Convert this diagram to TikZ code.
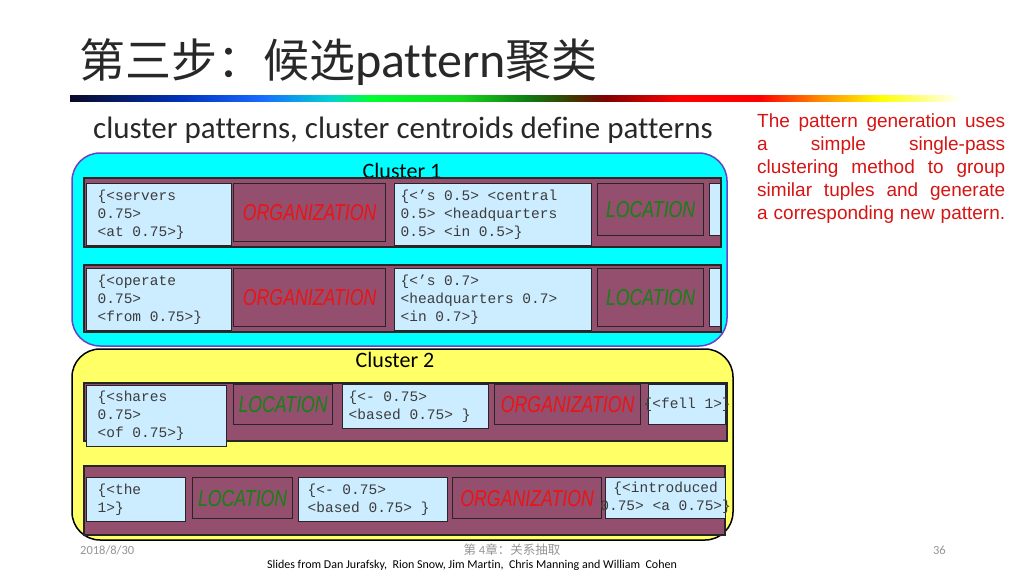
\documentclass[tikz,border=0pt]{standalone}
\usepackage{fontspec}
\setmainfont{Liberation Sans}
\newfontfamily\cjk{Noto Sans CJK SC}
\newfontfamily\calib[Ligatures=NoCommon]{Carlito}
\newfontfamily\mono{Liberation Mono}
\newfontfamily\narrowf[FakeStretch=0.77]{Liberation Sans}
\newcommand\natsp{\spaceskip=0pt\xspaceskip=0pt\relax}
\definecolor{maroon}{RGB}{148,78,110}
\definecolor{lblue}{RGB}{204,236,255}
\definecolor{cyn}{RGB}{0,255,255}
\definecolor{ylw}{RGB}{255,255,102}
\definecolor{cborder}{RGB}{106,63,200}
\definecolor{locg}{RGB}{20,130,20}
\definecolor{orgr}{RGB}{235,20,20}
\definecolor{txtred}{RGB}{215,20,20}
\definecolor{titleg}{RGB}{40,40,40}
\definecolor{footg}{RGB}{150,150,150}
\definecolor{monog}{RGB}{60,60,60}
\begin{document}
\begin{tikzpicture}[x=1pt,y=-1pt,
  lb/.style={draw=black!85, line width=1.3pt, fill=lblue, anchor=north west, inner xsep=6pt, inner ysep=0pt,
    font=\mono\fontsize{14.5}{18}\selectfont, text=monog, align=left, execute at begin node=\natsp},
  monot/.style={font=\mono\fontsize{14.5}{18}\selectfont, text=monog, align=center, inner sep=0pt,
    execute at begin node=\natsp},
  org/.style={draw=black!85, line width=1.3pt, fill=maroon, anchor=north west, inner sep=0pt,
    font=\narrowf\itshape\fontsize{23}{23}\selectfont, text=orgr},
  loc/.style={org, text=locg},
  rowbox/.style={fill=maroon, draw=black!85, line width=1.3pt},
  clab/.style={font=\calib\fontsize{22}{22}\selectfont, inner sep=0pt},
  foot/.style={font=\calib\fontsize{12.5}{12.5}\selectfont, text=footg, inner sep=0pt}
]
\path[use as bounding box] (0,0) rectangle (1024,576);
\fill[white] (0,0) rectangle (1024,576);

% title
\node[anchor=west, inner sep=0pt, text=titleg, font=\fontsize{46}{46}\selectfont] (title) at (79,62)
  {\cjk 第三步：候选{\calib\fontsize{50}{50}\selectfont pattern}聚类};

% gradient bar
\shade[left color={rgb,255:red,10;green,10;blue,40}, right color={rgb,255:red,0;green,50;blue,185}] (70,95) rectangle (180.5,101);
\shade[left color={rgb,255:red,0;green,50;blue,185}, right color={rgb,255:red,25;green,105;blue,255}] (180,95) rectangle (260.5,101);
\shade[left color={rgb,255:red,25;green,105;blue,255}, right color={rgb,255:red,0;green,210;blue,210}] (260,95) rectangle (330.5,101);
\shade[left color={rgb,255:red,0;green,210;blue,210}, right color={rgb,255:red,0;green,255;blue,50}] (330,95) rectangle (370.5,101);
\shade[left color={rgb,255:red,0;green,255;blue,50}, right color={rgb,255:red,20;green,215;blue,30}] (370,95) rectangle (460.5,101);
\shade[left color={rgb,255:red,20;green,215;blue,30}, right color={rgb,255:red,16;green,120;blue,16}] (460,95) rectangle (530.5,101);
\shade[left color={rgb,255:red,16;green,120;blue,16}, right color={rgb,255:red,60;green,60;blue,0}] (530,95) rectangle (570.5,101);
\shade[left color={rgb,255:red,60;green,60;blue,0}, right color={rgb,255:red,128;green,0;blue,0}] (570,95) rectangle (605.5,101);
\shade[left color={rgb,255:red,128;green,0;blue,0}, right color={rgb,255:red,255;green,0;blue,0}] (605,95) rectangle (680.5,101);
\shade[left color={rgb,255:red,255;green,0;blue,0}, right color={rgb,255:red,255;green,0;blue,0}] (680,95) rectangle (760.5,101);
\shade[left color={rgb,255:red,255;green,0;blue,0}, right color={rgb,255:red,255;green,140;blue,0}] (760,95) rectangle (820.5,101);
\shade[left color={rgb,255:red,255;green,140;blue,0}, right color={rgb,255:red,255;green,255;blue,0}] (820,95) rectangle (880.5,101);
\shade[left color={rgb,255:red,255;green,255;blue,0}, right color=white] (880,95) rectangle (960,101);

% subtitle
\node[inner sep=0pt, font=\calib\fontsize{31}{31}\selectfont, text=titleg] (sub) at (403,130)
  {cluster patterns, cluster centroids define patterns};

% right text
\node[anchor=north west, inner sep=0pt, text width=248pt, text=txtred, align=left,
  font=\fontsize{19}{23}\selectfont, execute at begin node=\natsp] (note) at (757,114)
  {\makebox[248pt][s]{The pattern generation uses}\\
   \makebox[248pt][s]{a simple single-pass}\\
   \makebox[248pt][s]{clustering method to group}\\
   \makebox[248pt][s]{similar tuples and generate}\\
   \makebox[248pt][s]{a corresponding new pattern.}};

% Cluster 1
\draw[fill=cyn, draw=cborder, line width=1.5pt, rounded corners=28pt] (72,153) rectangle (727,346);
\node[clab] (c1) at (402,171) {Cluster 1};
\draw[rowbox] (84,178) rectangle (721,247);
\node[lb, inner xsep=11pt, text width=123pt, minimum height=62pt] (b11) at (86,183) {\{<servers\\0.75>\\<at 0.75>\}};
\node[org, minimum width=152pt, minimum height=58pt] (o11) at (233,183) {ORGANIZATION};
\node[lb, text width=185pt, minimum height=62pt] (b12) at (394,183) {\{<’s 0.5> <central\\0.5> <headquarters\\0.5> <in 0.5>\}};
\node[loc, minimum width=106pt, minimum height=52pt] (l11) at (597,183) {LOCATION};
\node[lb, inner xsep=0pt, minimum width=11pt, minimum height=52pt] (s11) at (709,183) {};

\draw[rowbox] (84,265) rectangle (721,332);
\node[lb, inner xsep=11pt, text width=123pt, minimum height=62pt] (b21) at (86,268) {\{<operate\\0.75>\\<from 0.75>\}};
\node[org, minimum width=152pt, minimum height=58pt] (o21) at (233,268) {ORGANIZATION};
\node[lb, text width=185pt, minimum height=62pt] (b22) at (394,268) {\{<’s 0.7>\\<headquarters 0.7>\\<in 0.7>\}};
\node[loc, minimum width=106pt, minimum height=58pt] (l21) at (597,268) {LOCATION};
\node[lb, inner xsep=0pt, minimum width=11pt, minimum height=58pt] (s21) at (709,268) {};

% Cluster 2
\draw[fill=ylw, draw=black, line width=1.5pt, rounded corners=28pt] (72,349) rectangle (733,540);
\node[clab] (c2) at (395,360) {Cluster 2};
\draw[rowbox] (84,383) rectangle (727,441);
\node[lb, inner xsep=11pt, text width=118pt, minimum height=61pt] (b31) at (86,385) {\{<shares\\0.75>\\<of 0.75>\}};
\node[loc, minimum width=99pt, minimum height=40pt] (l31) at (233,384) {LOCATION};
\node[lb, text width=134pt, minimum height=44pt] (b32) at (342,384) {\{<- 0.75>\\<based 0.75> \}};
\node[org, minimum width=146pt, minimum height=40pt] (o31) at (494,384) {ORGANIZATION};
\node[lb, inner xsep=0pt, minimum width=77pt, minimum height=40pt] (b33) at (648,384) {};
\node[monot] (t33) at (b33.center) {\{<fell 1>\}};

\draw[rowbox] (84,466) rectangle (725,535);
\node[lb, inner xsep=11pt, text width=77pt, minimum height=44pt] (b41) at (86,477) {\{<the\\1>\}};
\node[loc, minimum width=100pt, minimum height=41pt] (l41) at (192,477) {LOCATION};
\node[lb, inner xsep=9pt, text width=131pt, minimum height=44pt] (b42) at (298,477) {\{<- 0.75>\\<based 0.75> \}};
\node[org, minimum width=149pt, minimum height=41pt] (o41) at (452,477) {ORGANIZATION};
\node[lb, inner xsep=0pt, minimum width=120pt, minimum height=41pt] (b43) at (605,477) {};
\node[monot] (t43) at (b43.center) {\{<introduced\\0.75> <a 0.75>\}};

% footer
\node[foot, anchor=west] (date) at (80,550) {2018/8/30};
\node[foot] (chap) at (512,550) {{\cjk\fontsize{12.5}{12.5}\selectfont 第 }4{\cjk\fontsize{12.5}{12.5}\selectfont 章：关系抽取}};
\node[foot, anchor=east] (page) at (946,550) {36};
\node[inner sep=0pt, font=\calib\fontsize{12}{12}\selectfont] (credit) at (472,565)
  {Slides from Dan Jurafsky,\ \ Rion Snow, Jim Martin,\ \ Chris Manning and William\ \ Cohen};
\end{tikzpicture}
\end{document}
